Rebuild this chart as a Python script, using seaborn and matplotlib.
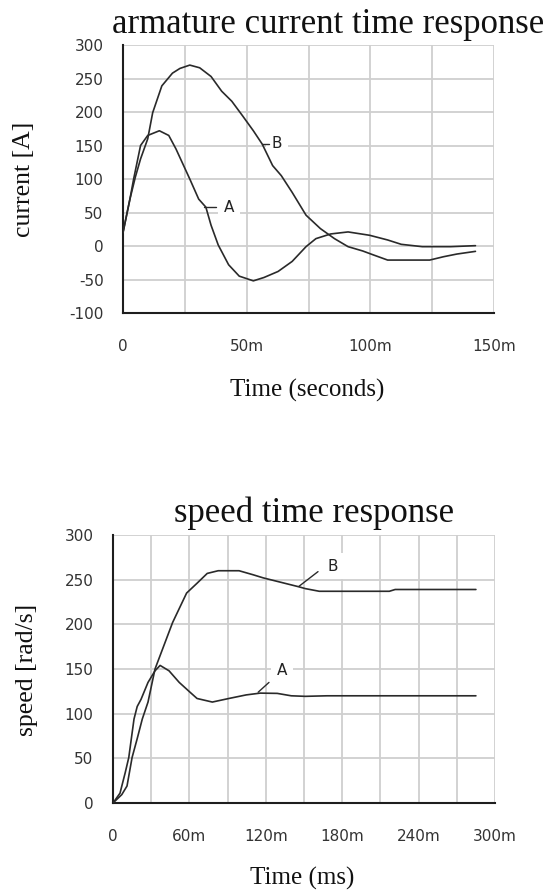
import matplotlib
matplotlib.use("Agg")
import matplotlib.pyplot as plt
import seaborn as sns
import pandas as pd
import numpy as np

# ---------------- data ----------------
# armature current (time in ms, current in A)
cur_a_t = [0, 2.8, 4.3, 7.1, 10, 14.7, 18.5, 21.4, 27, 30.6, 33.5, 35.6, 38.5, 42.7, 47,
           52.7, 57, 62.7, 68.4, 74, 78, 84, 91, 99.7, 107, 112.5, 121, 132.5, 142.5]
cur_a_v = [20, 70, 100, 150, 165, 172, 165, 145, 100, 70, 58, 31, 1.5, -28, -45,
           -52, -47, -38, -23, -1, 11, 18, 21, 16, 9, 2.5, -1, -1, 0.5]
cur_b_t = [0, 2.8, 5, 7.1, 10, 12, 15.7, 20, 23, 27, 31, 35.6, 39.9, 44, 48.4, 52.7, 56.3,
           60.5, 64, 68.4, 74, 79.8, 85.5, 91, 96.9, 101, 107, 114, 124, 129.6, 135, 142.5]
cur_b_v = [20, 70, 103, 130, 160, 199, 239, 258, 265, 270, 266, 253, 231, 216, 194, 172, 152,
           120, 105, 80, 46, 26, 11, -1, -7.4, -13, -21, -21, -21, -16, -12, -8]

# speed (time in ms, speed in rad/s)
spd_a_t = [0, 5.5, 9.6, 12.4, 16.5, 19, 22, 27.5, 33, 37, 44, 52, 60.5, 66, 78, 91,
           104.6, 115.6, 129, 140, 151, 168, 285]
spd_a_v = [0, 11, 34, 51, 94, 108, 116, 135, 148, 154, 148, 135, 124, 117, 113, 117,
           121, 123, 122.7, 120, 119.4, 120, 120]
spd_b_t = [0, 6.9, 11, 15, 19, 23, 27.5, 33, 46.8, 57.8, 66, 74, 82.6, 99, 110, 118,
           132, 146, 151, 162, 187, 217, 221.6, 242, 285]
spd_b_v = [0, 9.4, 19, 51, 72, 94, 113, 150, 202, 235, 246, 257, 260, 260, 255.5, 252,
           247, 242, 240, 237, 237, 237, 239, 239, 239]

cur_xticks = [0, 50, 100, 150]
cur_xticklabels = ["0", "50m", "100m", "150m"]
cur_yticks = [-100, -50, 0, 50, 100, 150, 200, 250, 300]
spd_xticks = [0, 60, 120, 180, 240, 300]
spd_xticklabels = ["0", "60m", "120m", "180m", "240m", "300m"]
spd_yticks = [0, 50, 100, 150, 200, 250, 300]

# label annotations: (text, text_x, text_y, leader_x0, leader_y0, leader_x1, leader_y1)
cur_labels = [("A", 42.9, 58, 32.8, 58, 37.7, 58),
              ("B", 62.2, 153, 56.3, 152, 59.0, 152)]
spd_labels = [("A", 132.8, 148, 114, 124, 122.5, 135),
              ("B", 172.8, 264.8, 146, 242.5, 161, 259)]

# ---------------- style ----------------
sns.set_style("white")
plt.rcParams['font.family'] = ['DejaVu Sans']
plt.rcParams['axes.unicode_minus'] = False
SERIF = ['Liberation Serif', 'DejaVu Serif']
LINE = '#2a2a2a'
GRID = '#cfcfcf'
TICKC = '#333333'

W, H = 552, 891
fig = plt.figure(figsize=(W / 100, H / 100), dpi=100)


def px_axes(left, top, right, bottom):
    return fig.add_axes([left / W, 1 - bottom / H, (right - left) / W, (bottom - top) / H])


def style_axes(ax, xlim, ylim, xticks, xticklabels, xminor, yticks):
    ax.set_xlim(*xlim)
    ax.set_ylim(*ylim)
    ax.set_xticks(xticks)
    ax.set_xticklabels(xticklabels)
    ax.set_xticks(xminor, minor=True)
    ax.set_yticks(yticks)
    ax.set_yticklabels([str(v) for v in yticks])
    ax.grid(True, which='both', color=GRID, lw=1.3)
    ax.set_axisbelow(True)
    for s in ['top', 'right']:
        ax.spines[s].set_visible(False)
    for s in ['left', 'bottom']:
        ax.spines[s].set_color('#1e1e1e')
        ax.spines[s].set_linewidth(1.5)
        ax.spines[s].set_zorder(3)
    ax.tick_params(axis='both', which='major', direction='out', length=7, width=1.4,
                   color='#1e1e1e', labelsize=11, labelcolor=TICKC)
    ax.tick_params(axis='x', which='major', pad=12)
    ax.tick_params(axis='y', which='major', pad=7)
    ax.tick_params(axis='both', which='minor', length=0)
    ax.set_xlabel('')
    ax.set_ylabel('')


def add_labels(ax, labels):
    for txt, tx, ty, x0, y0, x1, y1 in labels:
        ax.plot([x0, x1], [y0, y1], color=LINE, lw=1.0, zorder=4)
        ax.text(tx, ty, txt, ha='center', va='center', fontsize=11, color='#222222',
                zorder=2, bbox=dict(facecolor='white', edgecolor='none', pad=4))


# ---------------- top chart ----------------
ax1 = px_axes(123, 45, 494, 313)
df_cur = pd.concat([
    pd.DataFrame({'time': cur_a_t, 'value': cur_a_v, 'series': 'A'}),
    pd.DataFrame({'time': cur_b_t, 'value': cur_b_v, 'series': 'B'}),
])
sns.lineplot(data=df_cur, x='time', y='value', units='series', estimator=None,
             color=LINE, lw=1.2, sort=False, ax=ax1, legend=False, zorder=5)
style_axes(ax1, (0, 150), (-100, 300), cur_xticks, cur_xticklabels,
           np.arange(0, 151, 25), cur_yticks)
add_labels(ax1, cur_labels)

# ---------------- bottom chart ----------------
ax2 = px_axes(113, 535, 495, 803)
df_spd = pd.concat([
    pd.DataFrame({'time': spd_a_t, 'value': spd_a_v, 'series': 'A'}),
    pd.DataFrame({'time': spd_b_t, 'value': spd_b_v, 'series': 'B'}),
])
sns.lineplot(data=df_spd, x='time', y='value', units='series', estimator=None,
             color=LINE, lw=1.2, sort=False, ax=ax2, legend=False, zorder=5)
style_axes(ax2, (0, 300), (0, 300), spd_xticks, spd_xticklabels,
           np.arange(0, 301, 30), spd_yticks)
add_labels(ax2, spd_labels)

# ---------------- titles and axis labels ----------------
def ftext(x, y, s, size, **kw):
    fig.text(x / W, 1 - y / H, s, fontsize=size, family=SERIF, color='#111111', **kw)

ftext(328, 33, 'armature current time response', 25, ha='center', va='baseline')
ftext(314.5, 522, 'speed time response', 25, ha='center', va='baseline')
ftext(307, 397, 'Time (seconds)', 18, ha='center', va='baseline')
ftext(302.5, 885, 'Time (ms)', 18, ha='center', va='baseline')
ftext(24.5, 179, 'current [A]', 18.5, ha='center', va='center', rotation=90)
ftext(26.5, 669.5, 'speed [rad/s]', 18.5, ha='center', va='center', rotation=90)

fig.savefig('out.png', dpi=100)
